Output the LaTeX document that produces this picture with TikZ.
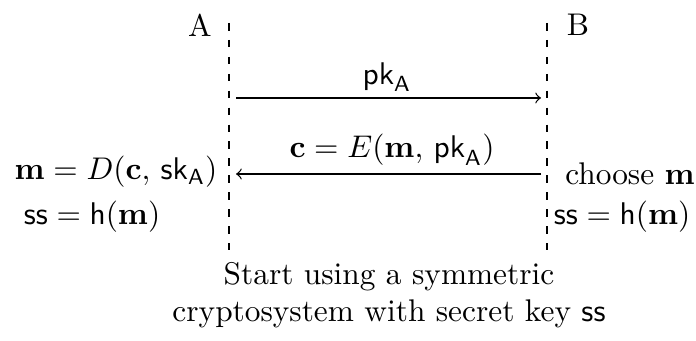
\documentclass[tikz,border=0pt]{standalone}
\usepackage{amsmath}
\newcommand{\pkA}{\mathsf{pk}_{\mathsf{A}}}
\newcommand{\skA}{\mathsf{sk}_{\mathsf{A}}}
\begin{document}
\begin{tikzpicture}[x=0.319pt,y=-0.319pt,
  lifeline/.style={dash pattern=on 2.4pt off 3pt, line width=0.4pt},
  msg/.style={->, thin},
  lbl/.style={inner sep=0pt}]
\useasboundingbox (0,0) rectangle (696,341);

% parties
\node[lbl] (A) at (200,25) {A};
\node[lbl] (B) at (578,25) {B};

% lifelines
\coordinate (Atop) at (229,23);
\coordinate (Abot) at (229,250);
\coordinate (Btop) at (547,23);
\coordinate (Bbot) at (547,250);
\draw[lifeline] (Atop) -- (Abot);
\draw[lifeline] (Btop) -- (Bbot);

% messages
\coordinate (m1s) at (236,98);
\coordinate (m1e) at (541,98);
\draw[msg] (m1s) -- (m1e);
\node[lbl] (pk) at (387,77) {$\pkA$};

\coordinate (m2s) at (541,174);
\coordinate (m2e) at (236,174);
\draw[msg] (m2s) -- (m2e);
\node[lbl] (ct) at (392,150) {$\mathbf{c} = E(\mathbf{m},\, \pkA)$};

% local computations
\node[lbl] (dec) at (116,172) {$\mathbf{m} = D(\mathbf{c},\, \skA)$};
\node[lbl] (ssA) at (92,217) {$\mathsf{ss} = \mathsf{h}(\mathbf{m})$};
\node[lbl] (choose) at (630,174) {choose $\mathbf{m}$};
\node[lbl] (ssB) at (622,217) {$\mathsf{ss} = \mathsf{h}(\mathbf{m})$};

% outcome
\node[lbl, align=center] (sym) at (389,295)
  {Start using a symmetric\\cryptosystem with secret key $\mathsf{ss}$};
\end{tikzpicture}
\end{document}
